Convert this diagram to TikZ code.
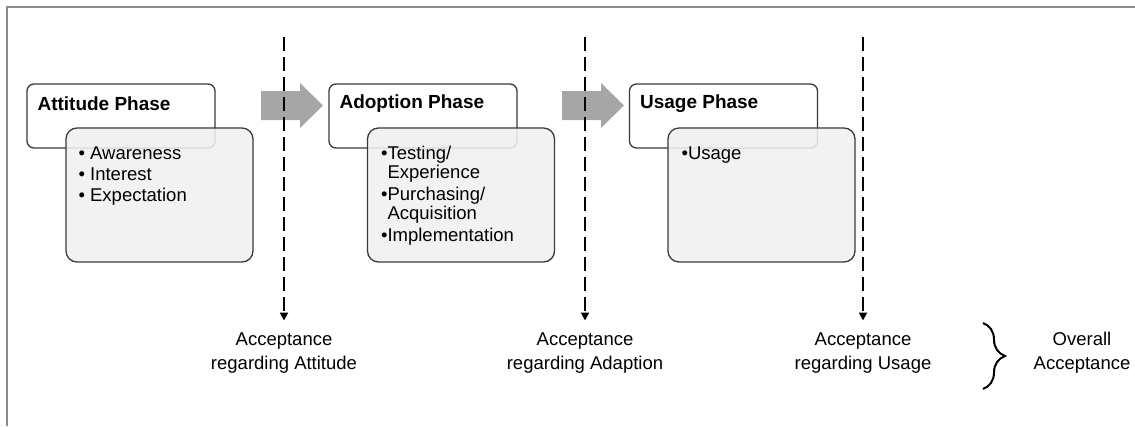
\documentclass[tikz,border=0pt]{standalone}
\usepackage{fontspec}
\setmainfont{Liberation Sans}
\usetikzlibrary{arrows.meta,decorations.pathreplacing}
\definecolor{frame}{HTML}{8C8C8C}
\definecolor{boxline}{HTML}{3A3A3A}
\definecolor{boxfill}{HTML}{F0F0F0}
\definecolor{arrowfill}{HTML}{A6A6A6}
\begin{document}
\begin{tikzpicture}[x=1pt,y=-1pt,
  headbox/.style={draw=boxline,line width=1.3pt,rounded corners=7pt,fill=white,
    minimum width=188pt,minimum height=64pt,inner sep=0pt},
  contbox/.style={draw=boxline,line width=1.3pt,rounded corners=11pt,fill=boxfill,fill opacity=0.88,
    minimum width=187pt,minimum height=134pt,inner sep=0pt},
  headtext/.style={anchor=west,font=\fontsize{19}{22}\selectfont\bfseries,inner sep=0pt},
  bullettext/.style={anchor=north west,align=left,font=\fontsize{18.5}{21}\selectfont,inner sep=0pt},
  blockarrow/.style={fill=arrowfill,draw=none},
  phaseline/.style={draw=black,line width=2.2pt,dash pattern=on 14pt off 6pt,
    -{Triangle[width=8pt,length=8pt]}},
  acclabel/.style={align=center,font=\fontsize{18.5}{24}\selectfont,inner sep=0pt}
]
\useasboundingbox (0,0) rectangle (1135,426);
% frame
\draw[frame,line width=1.5pt] (1135,7) -- (7,7) -- (7,426);

% phase boxes
\node[headbox] (h1) at (121,116) {};
\node[contbox] (c1) at (159.5,195) {};
\node[headtext] (t1) at ([xshift=11pt,yshift=-20pt]h1.north west) {Attitude Phase};
\node[bullettext] (b1) at ([xshift=13pt,yshift=-19pt]c1.north west)
  {\textbullet\ Awareness\\ \textbullet\ Interest\\ \textbullet\ Expectation};

\node[headbox] (h2) at (423,116) {};
\node[contbox] (c2) at (461,195) {};
\node[headtext] (t2) at ([xshift=11pt,yshift=-20pt]h2.north west) {Adoption Phase};
\node[bullettext,font=\fontsize{18.5}{19}\selectfont] (b2) at ([xshift=14pt,yshift=-19pt]c2.north west)
  {\textbullet Testing/\\ \hphantom{\textbullet}Experience\\[3pt] \textbullet Purchasing/\\ \hphantom{\textbullet}Acquisition\\[3pt] \textbullet Implementation};

\node[headbox] (h3) at (723.5,116) {};
\node[contbox] (c3) at (761.5,195) {};
\node[headtext] (t3) at ([xshift=11pt,yshift=-20pt]h3.north west) {Usage Phase};
\node[bullettext] (b3) at ([xshift=14pt,yshift=-19pt]c3.north west) {\textbullet Usage};

% block arrows
\fill[blockarrow] (261,91) -- (300,91) -- (300,83) -- (323,105.5) -- (300,128) -- (300,120) -- (261,120) -- cycle;
\fill[blockarrow] (562,91) -- (601,91) -- (601,83) -- (624,105.5) -- (601,128) -- (601,120) -- (562,120) -- cycle;

% acceptance labels
\node[acclabel] (l1) at (284,353) {Acceptance\\regarding Attitude};
\node[acclabel] (l2) at (585,353) {Acceptance\\regarding Adaption};
\node[acclabel] (l3) at (863,353) {Acceptance\\regarding Usage};
\node[acclabel] (l4) at (1082,353) {Overall\\Acceptance};

% dashed phase lines
\coordinate (d1) at (284,37);
\coordinate (d2) at (585,37);
\coordinate (d3) at (863,37);
\draw[phaseline] (d1) -- ([yshift=12pt]l1.north);
\draw[phaseline] (d2) -- ([yshift=12pt]l2.north);
\draw[phaseline] (d3) -- ([yshift=12pt]l3.north);

% brace
\coordinate (br1) at (983,323);
\coordinate (br2) at (983,389);
\draw[line width=2pt,decorate,decoration={brace,amplitude=22pt,aspect=0.5}] (br1) -- (br2);
\end{tikzpicture}
\end{document}
